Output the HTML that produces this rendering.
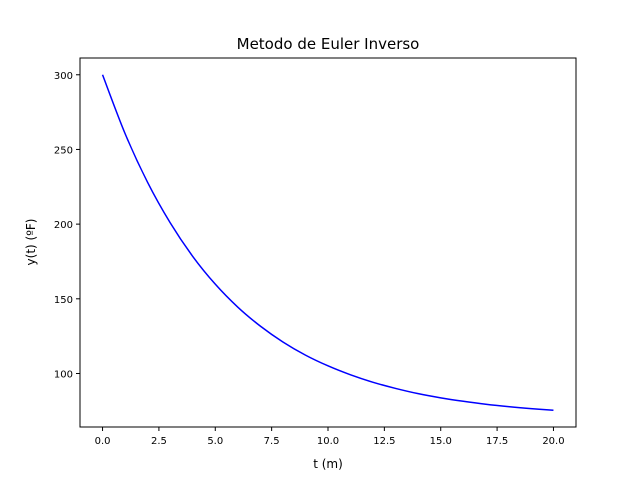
<!DOCTYPE html>
<html><head><meta charset="utf-8"><style>
html,body{margin:0;padding:0;background:#fff;}
svg{display:block;font-family:"DejaVu Sans","Liberation Sans",sans-serif;}
</style></head><body>
<svg id="chart" width="640" height="480" viewBox="0 0 640 480" xmlns="http://www.w3.org/2000/svg">
<rect width="640" height="480" fill="#fff"/>
<text x="328" y="49" font-size="15" text-anchor="middle">Metodo de Euler Inverso</text>
<g id="plot"></g>
<rect x="80" y="58" width="496" height="369" fill="none" stroke="#000" stroke-width="1"/>
<text x="328" y="468" font-size="12" text-anchor="middle">t (m)</text>
<text transform="translate(35,242) rotate(-90)" font-size="12" text-anchor="middle">y(t) (ºF)</text>
</svg>
<script>
const tValues=[0,1,2,3,4,5,6,7,8,9,10,11,12,13,14,15,16,17,18,19,20];
const yValues=[300,260.6,227.9,200.9,178.4,159.8,144.4,131.7,121.1,112.3,105.1,99.1,94.1,90.0,86.5,83.7,81.4,79.4,77.8,76.5,75.4];
const xTicks=[0,2.5,5,7.5,10,12.5,15,17.5,20];
const xTickLabels=["0.0","2.5","5.0","7.5","10.0","12.5","15.0","17.5","20.0"];
const yTicks=[100,150,200,250,300];
const yTickLabels=["100","150","200","250","300"];

const L=80,R=576,T=58,B=427;
const xmin=Math.min(...tValues),xmax=Math.max(...tValues);
const ymin=Math.min(...yValues),ymax=Math.max(...yValues);
const xpad=(xmax-xmin)*0.05,ypad=(ymax-ymin)*0.05;
const x0=xmin-xpad,x1=xmax+xpad,y0=ymin-ypad,y1=ymax+ypad;
const sx=v=>L+(v-x0)/(x1-x0)*(R-L);
const sy=v=>B-(v-y0)/(y1-y0)*(B-T);
const NS="http://www.w3.org/2000/svg";
const g=document.getElementById('plot');
function mk(tag,attrs){const e=document.createElementNS(NS,tag);for(const k in attrs)e.setAttribute(k,attrs[k]);g.appendChild(e);return e;}
xTicks.forEach((v,i)=>{
  const x=sx(v);
  const t=mk('line',{x1:x,x2:x,y1:B,y2:B+4,stroke:'#000'});
  
  
  const l=mk('text',{x:x,y:B+17,'font-size':'10','text-anchor':'middle'});
  l.textContent=xTickLabels[i];
  
  
});
yTicks.forEach((v,i)=>{
  const y=sy(v);
  const t=mk('line',{x1:L-4,x2:L,y1:y,y2:y,stroke:'#000'});
  
  
  const l=mk('text',{x:L-7,y:y+4,'font-size':'10','text-anchor':'end'});
  l.textContent=yTickLabels[i];
  
  
});
const pts=tValues.map((t,i)=>[sx(t),sy(yValues[i])]);
let d='M'+pts[0][0].toFixed(2)+','+pts[0][1].toFixed(2);
for(let i=0;i<pts.length-1;i++){
  const p0=pts[Math.max(i-1,0)],p1=pts[i],p2=pts[i+1],p3=pts[Math.min(i+2,pts.length-1)];
  const c1=[p1[0]+(p2[0]-p0[0])/6,p1[1]+(p2[1]-p0[1])/6];
  const c2=[p2[0]-(p3[0]-p1[0])/6,p2[1]-(p3[1]-p1[1])/6];
  d+='C'+c1[0].toFixed(2)+','+c1[1].toFixed(2)+' '+c2[0].toFixed(2)+','+c2[1].toFixed(2)+' '+p2[0].toFixed(2)+','+p2[1].toFixed(2);
}
const p=mk('path',{d:d,fill:'none',stroke:'#0000ff','stroke-width':'1.5','stroke-linejoin':'round'});


</script>
</body></html>
